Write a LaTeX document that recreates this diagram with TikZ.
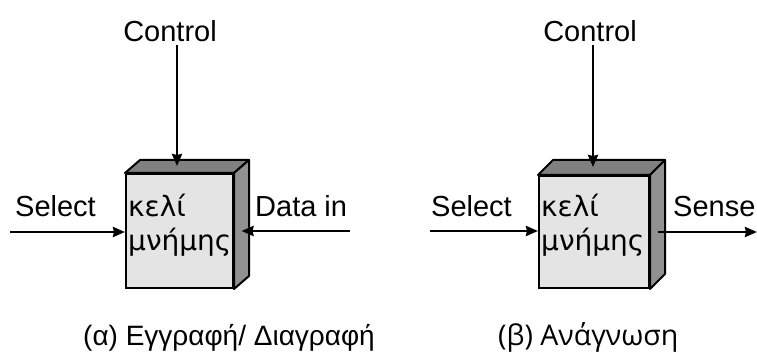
\documentclass[tikz,border=0pt]{standalone}
\usepackage{fontspec}
\setmainfont{Liberation Sans}
\newfontfamily\cellfont{DejaVu Sans}
\newfontfamily\capfont{Open Sans}
\usetikzlibrary{arrows.meta}
\definecolor{frontgray}{RGB}{228,228,228}
\definecolor{topgray}{RGB}{128,128,128}
\definecolor{sidegray}{RGB}{145,145,145}
\tikzset{
  lbl/.style={font=\fontsize{29}{29}\selectfont, inner sep=0pt, anchor=base west},
  caplbl/.style={font=\fontsize{28}{28}\selectfont, inner sep=0pt, anchor=base west},
  celltext/.style={font=\cellfont\fontsize{28}{28}\selectfont, inner sep=0pt, anchor=base west},
  cellface/.style={draw=black, line width=2pt, fill=frontgray, minimum width=107pt,
    minimum height=114pt, inner sep=0pt, anchor=north west},
  topface/.style={draw=black, line width=2pt, fill=topgray, line join=round},
  sideface/.style={draw=black, line width=2pt, fill=sidegray, line join=round},
  sig/.style={line width=2.6pt, -{Stealth[length=12pt,width=10pt,inset=1pt]}},
}
\begin{document}
\begin{tikzpicture}[x=1pt,y=-1pt]
  \useasboundingbox (0,0) rectangle (757,352);

  % ---------- (a) write / erase cell ----------
  \node[cellface] (cellA) at (125,173) {};
  \filldraw[topface] (cellA.north west) -- ++(15,-13)
    -- ([shift={(15,-13)}]cellA.north east) -- (cellA.north east) -- cycle;
  \filldraw[sideface] (cellA.north east) -- ([shift={(15,-13)}]cellA.north east)
    -- ([shift={(15,-13)}]cellA.south east) -- (cellA.south east) -- cycle;
  \node[celltext] (txtA1) at (128,217) {κελί};
  \node[celltext] (txtA2) at (128,251) {μνήμης};

  \node[lbl, anchor=base] (ctlA) at (170,42) {Control};
  \coordinate (topA) at (177,166);
  \draw[sig] ([yshift=-3pt]ctlA.south -| topA) -- (topA);

  \node[lbl] (selA) at (15,217) {Select};
  \coordinate (selAin) at (10,232);
  \draw[sig] (selAin) -- (selAin -| cellA.west);

  \node[lbl] (dinA) at (255,217) {Data in};
  \coordinate (dinAin) at (350,231);
  \coordinate (sideA) at ([shift={(7.5,0)}]cellA.east);
  \draw[sig] (dinAin) -- (dinAin -| sideA);

  \node[caplbl] (capA) at (83,345) {(α) Εγγραφή/ Διαγραφή};

  % ---------- (b) read cell ----------
  \node[cellface, minimum width=110pt, minimum height=112pt] (cellB) at (538,175) {};
  \filldraw[topface] (cellB.north west) -- ++(15,-15)
    -- ([shift={(15,-15)}]cellB.north east) -- (cellB.north east) -- cycle;
  \filldraw[sideface] (cellB.north east) -- ([shift={(15,-15)}]cellB.north east)
    -- ([shift={(15,-15)}]cellB.south east) -- (cellB.south east) -- cycle;
  \node[celltext] (txtB1) at (541,217) {κελί};
  \node[celltext] (txtB2) at (541,251) {μνήμης};

  \node[lbl, anchor=base] (ctlB) at (590,42) {Control};
  \coordinate (topB) at (593,167);
  \draw[sig] ([yshift=-3pt]ctlB.south -| topB) -- (topB);

  \node[lbl] (selB) at (431,217) {Select};
  \coordinate (selBin) at (430,231);
  \draw[sig] (selBin) -- (selBin -| cellB.west);

  \node[lbl] (senB) at (673,217) {Sense};
  \coordinate (sideB) at ([shift={(7.5,0)}]cellB.east);
  \coordinate (senBout) at (757,232);
  \draw[sig] (senBout -| sideB) -- (senBout);

  \node[caplbl, font=\capfont\fontsize{28.5}{28.5}\selectfont] (capB) at (498,345) {(β) Ανάγνωση};
\end{tikzpicture}
\end{document}
